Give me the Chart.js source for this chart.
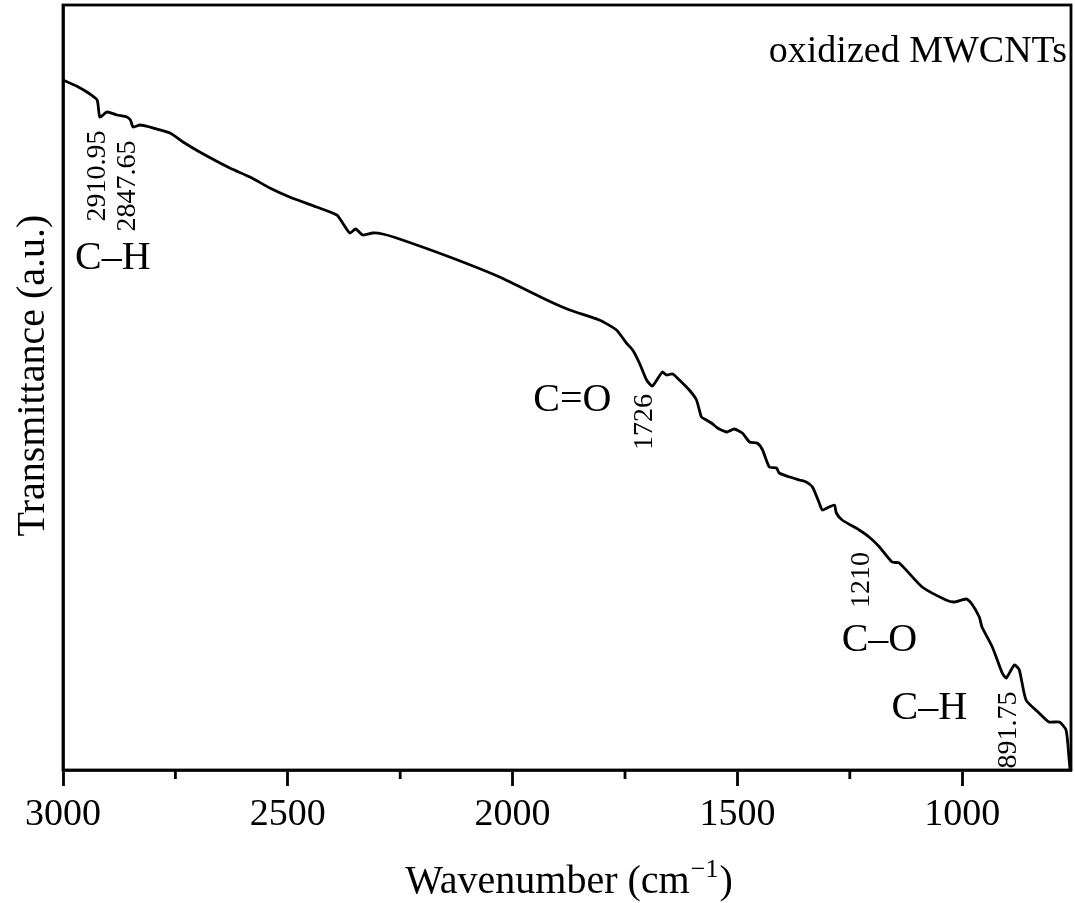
<!DOCTYPE html>
<html><head><meta charset="utf-8">
<script src="https://cdn.jsdelivr.net/npm/chart.js@4/dist/chart.umd.min.js"></script>
<style>html,body{margin:0;padding:0;background:#fff}#wrap{width:1075px;height:903px}</style>
</head><body><div id="wrap"><canvas id="c" width="1075" height="903"></canvas></div>
<script>
// Wavenumber (cm^-1) and transmittance (a.u.)
const wavenumbers = [3000,2970,2940,2924,2918,2902,2880,2858,2850,2844,2829,2807,2762,2733,2696,2629,2584,2540,2496,2436,2391,2378,2362,2349,2333,2311,2289,2258,2140,2029,1924,1873,1807,1769,1747,1733,1718,1702,1689,1667,1658,1644,1629,1607,1591,1580,1569,1558,1544,1536,1524,1518,1507,1489,1473,1456,1444,1429,1413,1407,1384,1362,1347,1333,1318,1311,1296,1284,1280,1267,1229,1207,1184,1156,1140,1089,1036,1018,991,980,962,956,933,911,902,884,873,858,829,807,784,769,762,760];
const transmittance = [69.0,68.4,67.6,67.0,65.3,65.8,65.5,65.3,65.0,64.3,64.5,64.3,63.7,62.8,61.8,60.2,59.3,58.2,57.3,56.3,55.5,54.7,53.7,54.1,53.5,53.7,53.6,53.2,51.3,49.3,47.0,46.0,45.0,44.0,42.7,42.0,40.7,39.0,38.4,39.8,39.5,39.6,39.0,38.0,37.0,35.3,35.0,34.7,34.2,34.0,33.8,33.9,34.1,33.7,32.8,32.7,32.0,30.3,30.2,29.7,29.3,29.0,28.8,28.3,26.7,26.0,26.3,26.5,25.7,25.0,24.0,23.3,22.3,20.8,20.7,18.3,17.0,16.8,17.1,16.7,15.3,14.3,12.3,9.7,9.2,10.5,10.0,7.0,5.7,4.8,4.8,4.0,1.0,0.0];
const xTickValues = [3000,2500,2000,1500,1000];
const xMinorTicks = [2750,2250,1750,1250];
const xTitle = "Wavenumber (cm";
const xTitleSup = "\u22121";
const yTitle = "Transmittance (a.u.)";
// Annotations: text, anchor wavenumber, anchor transmittance, rotated?, size
const annText = ["oxidized MWCNTs","C\u2013H","2910.95","2847.65","C=O","1726","1210","C\u2013O","C\u2013H","891.75"];
const annX    = [767,2889,2924,2856,1867,1707,1224,1184,1073,896];
const annY    = [70.8,51.2,59.4,58.4,37.0,34.8,19.0,13.0,6.2,4.0];
const annRot  = [0,0,1,1,0,1,1,0,0,1];
const annSize = [38,40,28,28,40,28,28,40,40,28];

const FONT = "'Liberation Serif', 'DejaVu Serif', serif";

const overlay = {
  id: 'overlay',
  afterDraw(chart) {
    const ctx = chart.ctx, a = chart.chartArea, xs = chart.scales.x, ys = chart.scales.y;
    ctx.save();
    ctx.strokeStyle = '#000'; ctx.lineWidth = 2.8;
    ctx.strokeRect(a.left, a.top, a.right - a.left, a.bottom - a.top);
    xMinorTicks.forEach(v => {
      const px = xs.getPixelForValue(v);
      ctx.beginPath(); ctx.moveTo(px, a.bottom); ctx.lineTo(px, a.bottom + 9); ctx.stroke();
    });
    ctx.fillStyle = '#000';
    annText.forEach((t, i) => {
      const px = xs.getPixelForValue(annX[i]), py = ys.getPixelForValue(annY[i]);
      ctx.font = annSize[i] + 'px ' + FONT;
      ctx.save();
      ctx.translate(px, py);
      if (annRot[i]) ctx.rotate(-Math.PI / 2);
      if (i === 0) { ctx.textAlign = 'right'; ctx.textBaseline = 'alphabetic'; }
      else { ctx.textAlign = 'center'; ctx.textBaseline = 'middle'; }
      ctx.fillText(t, 0, 0);
      ctx.restore();
    });
    ctx.save();
    ctx.font = '40px ' + FONT;
    ctx.translate(33, (a.top + a.bottom) / 2 - 12);
    ctx.rotate(-Math.PI / 2);
    ctx.textAlign = 'center'; ctx.textBaseline = 'middle';
    ctx.fillText(yTitle, 0, 0);
    ctx.restore();
    ctx.font = '40px ' + FONT;
    const w1 = ctx.measureText(xTitle).width;
    ctx.font = '26px ' + FONT;
    const w2 = ctx.measureText(xTitleSup).width;
    ctx.font = '40px ' + FONT;
    const w3 = ctx.measureText(')').width;
    let x0 = 568 - (w1 + w2 + w3) / 2;
    const base = 893;
    ctx.textAlign = 'left'; ctx.textBaseline = 'alphabetic';
    ctx.fillText(xTitle, x0, base);
    ctx.font = '26px ' + FONT;
    ctx.fillText(xTitleSup, x0 + w1 + 1, base - 16);
    ctx.font = '40px ' + FONT;
    ctx.fillText(')', x0 + w1 + w2 + 2, base);
    ctx.restore();
  }
};

new Chart(document.getElementById('c'), {
  type: 'line',
  data: {
    datasets: [{
      data: wavenumbers.map((w, i) => ({x: w, y: transmittance[i]})),
      borderColor: '#000', borderWidth: 2.8, pointRadius: 0, tension: 0.2, fill: false
    }]
  },
  options: {
    responsive: false, animation: false, devicePixelRatio: 1,
    layout: {padding: {top: 5, right: 4, left: 0, bottom: 0}},
    plugins: {legend: {display: false}, tooltip: {enabled: false}},
    scales: {
      x: {
        type: 'linear', reverse: true, min: 758, max: 3000, position: 'bottom',
        afterFit: s => { s.height = 133; },
        afterBuildTicks: s => { s.ticks = xTickValues.map(v => ({value: v})); },
        ticks: {font: {family: FONT, size: 38}, color: '#000', padding: 6, maxRotation: 0, autoSkip: false,
                callback: v => String(v)},
        grid: {drawOnChartArea: false, tickLength: 16, tickWidth: 2.8, color: '#000'},
        border: {color: '#000', width: 2.8}
      },
      y: {
        min: 0, max: 76.5,
        afterFit: s => { s.width = 63; },
        ticks: {display: false},
        grid: {display: false},
        border: {color: '#000', width: 2.8}
      }
    }
  },
  plugins: [overlay]
});
</script></body></html>
